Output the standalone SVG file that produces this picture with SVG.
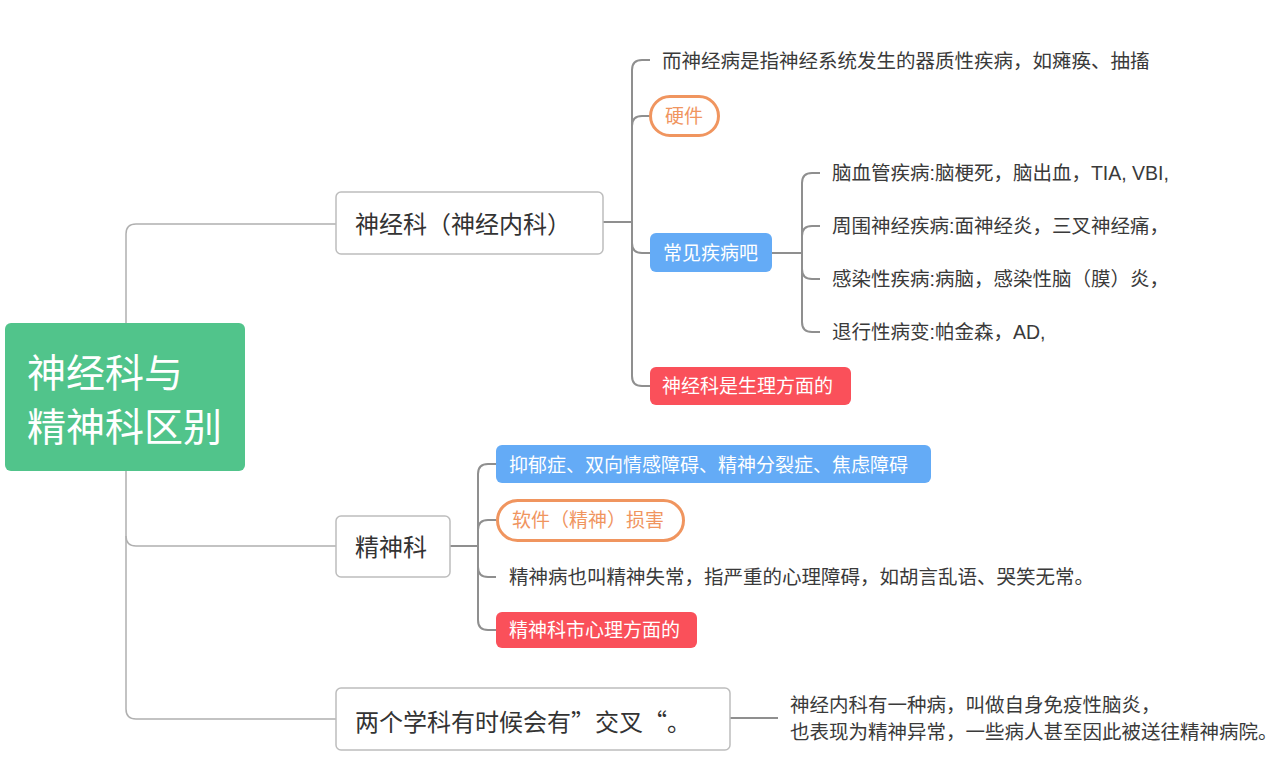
<svg xmlns="http://www.w3.org/2000/svg" width="1279" height="775" viewBox="0 0 1279 775">
<style>
text{font-family:"Liberation Sans","Noto Sans CJK SC",sans-serif;dominant-baseline:central}
.c1{fill:none;stroke:#b0b0b0;stroke-width:1.5}
.c2{fill:none;stroke:#8f8f8f;stroke-width:2}
.box{fill:#fff;stroke:#bdbdbd;stroke-width:1.5}
.t1{font-size:24px;fill:#333}
.t2{font-size:19.5px;fill:#3a3a3a}
.tw{font-size:19px;fill:#fff}
.to{font-size:19px;fill:#f0955f}
.pill{fill:#fff;stroke:#f0955f;stroke-width:3}
.blue{fill:#64abf6}
.red{fill:#fa505a}
.cjk{font-family:"Noto Sans CJK SC",sans-serif}
</style>
<g id="connectors">
<path class="c1" d="M126,323 V234 Q126,224 136,224 H336"/>
<path class="c1" d="M126,471 V709 Q126,719 136,719 H336"/>
<path class="c1" d="M126,536 Q126,546 136,546 H336"/>
<path class="c2" d="M603,222 H632"/>
<path class="c2" d="M650,60 H642 Q632,60 632,70 V376 Q632,386 642,386 H650"/>
<path class="c2" d="M632,126 Q632,116 642,116 H650"/>
<path class="c2" d="M632,243 Q632,253 642,253 H650"/>
<path class="c2" d="M772,253 H802"/>
<path class="c2" d="M820,173 H812 Q802,173 802,183 V322 Q802,332 812,332 H820"/>
<path class="c2" d="M802,236 Q802,226 812,226 H820"/>
<path class="c2" d="M802,269 Q802,279 812,279 H820"/>
<path class="c2" d="M450,546 H478"/>
<path class="c2" d="M496,464 H488 Q478,464 478,474 V620 Q478,630 488,630 H496"/>
<path class="c2" d="M478,530 Q478,520 488,520 H496"/>
<path class="c2" d="M478,567 Q478,577 488,577 H496"/>
<path class="c2" d="M730,718 H778"/>
</g>
<g id="root">
<rect x="5" y="323" width="240" height="148" rx="6" fill="#51c48b"/>
<text x="27" y="373" font-size="39" fill="#fff">神经科与</text>
<text x="27" y="427" font-size="39" fill="#fff">精神科区别</text>
</g>
<g id="n-neuro">
<rect class="box" x="336" y="192" width="267" height="62" rx="5"/>
<text class="t1" x="355" y="224">神经科（神经内科）</text>
</g>
<g id="n-neuro-def">
<text class="t2" x="662" y="61">而神经病是指神经系统发生的器质性疾病，如瘫痪、抽搐</text>
</g>
<g id="n-hard">
<rect class="pill" x="650.5" y="96.5" width="68" height="39" rx="19.5"/>
<text class="to" x="665" y="116">硬件</text>
</g>
<g id="n-common">
<rect class="blue" x="650" y="233" width="122" height="39" rx="6"/>
<text class="tw" x="663" y="253">常见疾病吧</text>
</g>
<g id="n-c1"><text class="t2" x="832" y="173">脑血管疾病:脑梗死，脑出血，TIA, VBI,</text></g>
<g id="n-c2"><text class="t2" x="832" y="226">周围神经疾病:面神经炎，三叉神经痛，</text></g>
<g id="n-c3"><text class="t2" x="832" y="279">感染性疾病:病脑，感染性脑（膜）炎，</text></g>
<g id="n-c4"><text class="t2" x="832" y="332">退行性病变:帕金森，AD,</text></g>
<g id="n-physio">
<rect class="red" x="650" y="367" width="201" height="38" rx="6"/>
<text class="tw" x="662" y="386">神经科是生理方面的</text>
</g>
<g id="n-psy">
<rect class="box" x="336" y="516" width="114" height="61" rx="5"/>
<text class="t1" x="355" y="547">精神科</text>
</g>
<g id="n-psy-list">
<rect class="blue" x="496" y="445" width="435" height="38" rx="6"/>
<text class="tw" x="509" y="465">抑郁症、双向情感障碍、精神分裂症、焦虑障碍</text>
</g>
<g id="n-soft">
<rect class="pill" x="497.5" y="500.5" width="186" height="40" rx="20"/>
<text class="to" x="512" y="520">软件（精神）损害</text>
</g>
<g id="n-psy-def">
<text class="t2" x="509" y="577">精神病也叫精神失常，指严重的心理障碍，如胡言乱语、哭笑无常。</text>
</g>
<g id="n-mental">
<rect class="red" x="496" y="612" width="201" height="36" rx="6"/>
<text class="tw" x="509" y="630">精神科市心理方面的</text>
</g>
<g id="n-cross">
<rect class="box" x="336" y="688" width="394" height="62" rx="5"/>
<text class="t1 cjk" x="355" y="720">两个学科有时候会有”交叉“。</text>
</g>
<g id="n-cross-note">
<text class="t2" x="790" y="705" font-size="19">神经内科有一种病，叫做自身免疫性脑炎，</text>
<text class="t2" x="790" y="732" font-size="19">也表现为精神异常，一些病人甚至因此被送往精神病院。</text>
</g>
</svg>
